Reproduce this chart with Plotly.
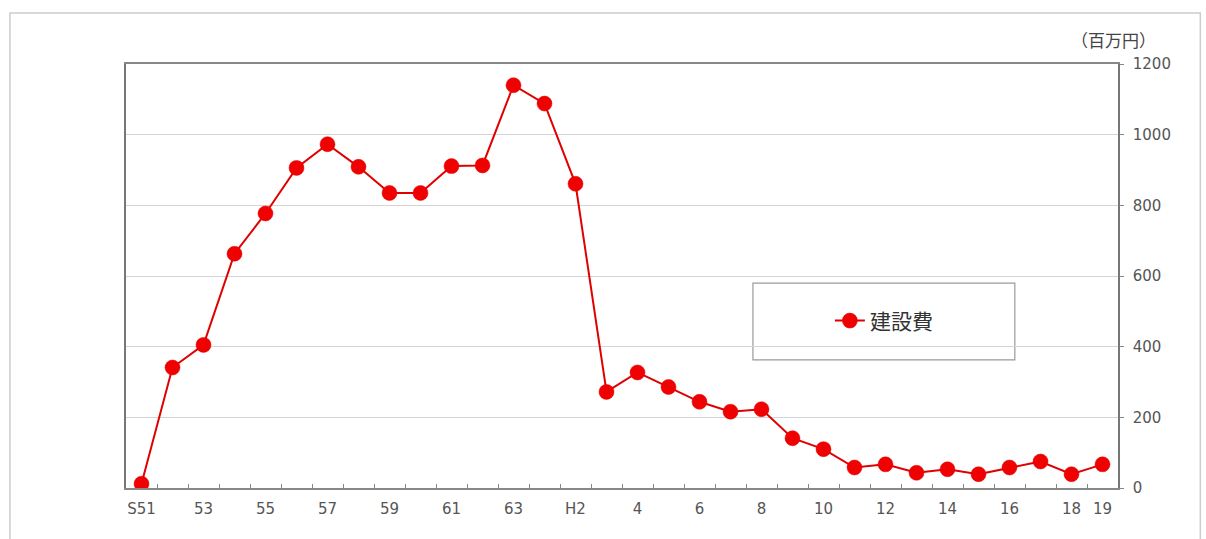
import plotly.graph_objects as go

# 年度（昭和51年度〜平成19年度）
years = ["S51", "52", "53", "54", "55", "56", "57", "58", "59", "60", "61", "62", "63",
         "H1", "H2", "3", "4", "5", "6", "7", "8", "9", "10", "11", "12", "13", "14",
         "15", "16", "17", "18", "19"]

# 建設費（百万円）
costs = [12, 341, 405, 663, 777, 906, 973, 909, 835, 835, 911, 913, 1140,
         1088, 861, 272, 327, 286, 244, 216, 223, 141, 110, 58, 67, 43, 53,
         39, 58, 75, 39, 67]

# 目盛ラベル（表示する年度のみ）
shown_labels = ["S51", "53", "55", "57", "59", "61", "63", "H2", "4", "6", "8",
                "10", "12", "14", "16", "18", "19"]
tick_text = [y if y in shown_labels else "" for y in years]

y_ticks = [0, 200, 400, 600, 800, 1000, 1200]

RED = "#f00000"
TICK_FONT = dict(family="DejaVu Sans", size=15, color="#555555")

fig = go.Figure()
fig.add_trace(go.Scatter(
    x=years, y=costs, name="建設費", mode="lines+markers",
    line=dict(color="#e00000", width=2),
    marker=dict(color=RED, size=15, line=dict(color="#e00000", width=0.5)),
))

fig.update_layout(
    width=1206, height=539,
    margin=dict(l=126, r=88, t=64, b=51),
    paper_bgcolor="white", plot_bgcolor="white",
    showlegend=True,
    legend=dict(
        x=0.764, y=0.394, xanchor="center", yanchor="middle",
        bgcolor="rgba(0,0,0,0)", borderwidth=0,
        font=dict(family="Noto Sans CJK JP", size=21, color="#333333"),
    ),
    xaxis=dict(
        type="category", categoryorder="array", categoryarray=years,
        range=[-0.5, len(years) - 0.5],
        tickmode="array", tickvals=years, ticktext=tick_text, tickangle=0,
        tickson="boundaries", ticks="inside", ticklen=4, tickcolor="#888888",
        showgrid=False, zeroline=False,
        showline=True, linecolor="#888888", linewidth=2, mirror=True,
        tickfont=TICK_FONT, ticklabelstandoff=6,
    ),
    yaxis=dict(
        side="right", range=[0, 1200], tickvals=y_ticks,
        ticks="outside", ticklen=4, tickcolor="#888888",
        showgrid=True, gridcolor="#d4d4d4", gridwidth=1,
        zeroline=False,
        showline=True, linecolor="#777777", linewidth=1.5, mirror=True,
        tickfont=TICK_FONT, ticklabelstandoff=6,
    ),
    annotations=[dict(
        text="（百万円）", xref="paper", yref="paper",
        x=0.995, y=1.057, xanchor="center", yanchor="middle", showarrow=False,
        font=dict(family="Noto Sans CJK JP", size=17, color="#444444"),
    )],
    shapes=[
        # 凡例の枠
        dict(type="rect", xref="paper", yref="paper",
             x0=0.632, x1=0.896, y0=0.302, y1=0.483,
             line=dict(color="#9a9a9a", width=1.2), fillcolor="white", layer="below"),
        # 図全体の外枠
        dict(type="rect", xref="paper", yref="paper",
             x0=-0.117, x1=1.083, y0=-0.3, y1=1.12,
             line=dict(color="#cccccc", width=1.5), layer="below"),
    ],
)

fig.write_html("out.html")
